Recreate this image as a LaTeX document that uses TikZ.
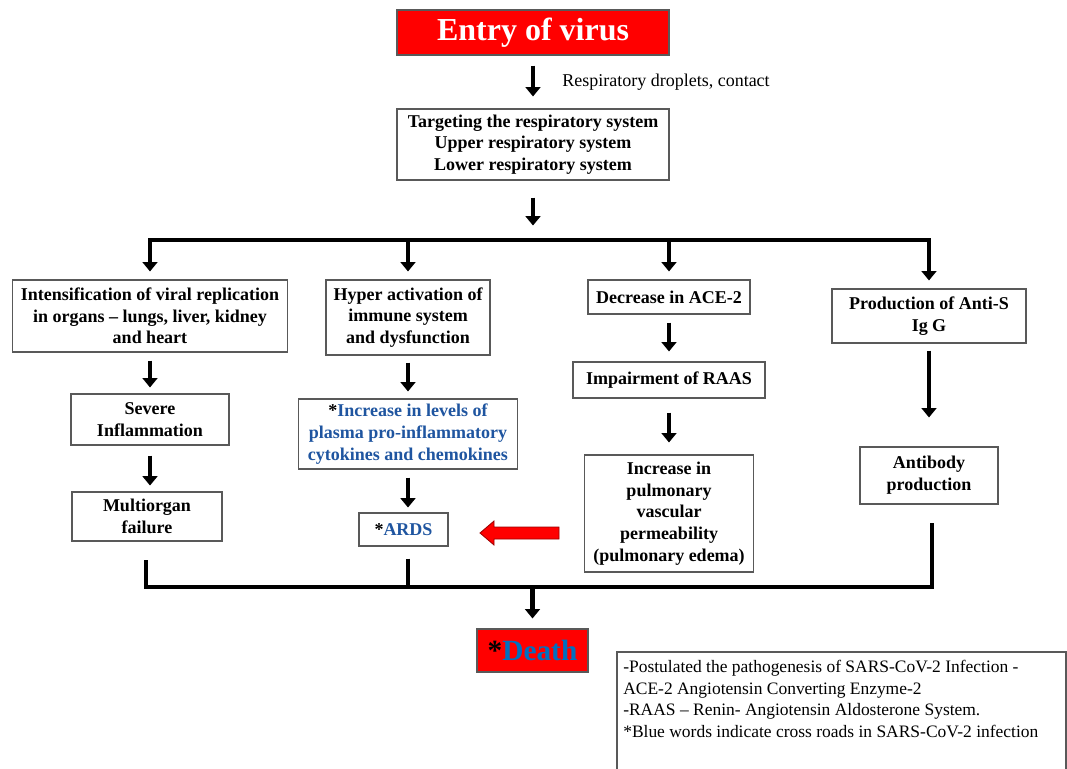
\documentclass[tikz,border=0pt]{standalone}
\usepackage{fontspec}
\setmainfont{Liberation Serif}
\usetikzlibrary{arrows.meta,calc}
\definecolor{bluetxt}{RGB}{31,85,160}
\definecolor{deathblue}{RGB}{0,112,192}
\begin{document}
\begin{tikzpicture}[x=0.75pt,y=-0.75pt,
  box/.style={draw=black!65,line width=0.8pt,align=center,inner sep=0pt,
    font=\fontsize{13.5}{16.3}\selectfont\bfseries},
  arr/.style={line width=3.6pt,-{Triangle[width=11pt,length=7pt]}},
  bar/.style={line width=3.6pt},
  plain/.style={font=\fontsize{13.1}{16.2}\selectfont,inner sep=0pt}
]
\useasboundingbox (0,0) rectangle (1067,768);
\fill[white] (0,0) rectangle (1067,768);

% nodes
\node[box,fill=red,text=white,minimum width=204pt,minimum height=33.75pt,
  font=\fontsize{24}{28}\selectfont\bfseries] (entry) at (533,32.5) {Entry of virus};
\node[plain,anchor=west,font=\fontsize{13.5}{16}\selectfont] (route) at (562,82) {Respiratory droplets, contact};
\node[box,minimum width=204pt,minimum height=53.25pt] (target) at (533,144.5)
  {Targeting the respiratory system\\Upper respiratory system\\Lower respiratory system};

\node[box,minimum width=206.25pt,minimum height=54pt] (A) at (150,316)
  {Intensification of viral replication\\in organs -- lungs, liver, kidney\\and heart};
\node[box,minimum width=123pt,minimum height=56.25pt] (B) at (408,317.5)
  {Hyper activation of\\immune system\\and dysfunction};
\node[box,minimum width=121.5pt,minimum height=25.5pt] (C) at (669,297)
  {Decrease in ACE-2};
\node[box,minimum width=145.5pt,minimum height=40.5pt] (D) at (929,316)
  {Production of Anti-S\\Ig G};

\node[box,minimum width=118.5pt,minimum height=38.25pt] (severe) at (150,419.5)
  {Severe\\Inflammation};
\node[box,minimum width=112.5pt,minimum height=36.75pt] (multi) at (147,516.5)
  {Multiorgan\\failure};

\node[box,minimum width=164.25pt,minimum height=52.5pt,text=bluetxt] (cyto) at (408,434)
  {\textcolor{black}{*}Increase in levels of\\plasma pro-inflammatory\\cytokines and chemokines};
\node[box,minimum width=66.75pt,minimum height=24.75pt,text=bluetxt] (ards) at (403.5,529.5)
  {\textcolor{black}{*}ARDS};

\node[box,minimum width=144pt,minimum height=27pt] (raas) at (669,380)
  {Impairment of RAAS};
\node[box,minimum width=126.75pt,minimum height=87.75pt] (pulm) at (669,513.5)
  {Increase in\\pulmonary\\vascular\\permeability\\(pulmonary edema)};

\node[box,minimum width=103.5pt,minimum height=42.75pt] (anti) at (929,475.5)
  {Antibody\\production};

\node[box,fill=red,minimum width=83.25pt,minimum height=32.25pt,text=deathblue,
  font=\fontsize{22}{26}\selectfont\bfseries] (death) at (532.5,650.5)
  {\textcolor{black}{*}Death};

\draw[black!65,line width=0.8pt] (1066,770) -- (1066,652) -- (617,652) -- (617,770);
\node[plain,anchor=north west,align=left] (note) at (623,660)
  {-Postulated the pathogenesis of SARS-CoV-2 Infection -\\
   ACE-2 Angiotensin Converting Enzyme-2\\
   -RAAS -- Renin- Angiotensin Aldosterone System.\\
   *Blue words indicate cross roads in SARS-CoV-2 infection};

% connectors
\draw[arr] ($(entry.south)+(0,10)$) -- ($(target.north)+(0,-12)$);
\draw[arr] ($(target.south)+(0,17)$) -- ($(target.south)+(0,45)$);

\coordinate (bus) at (533,240);
\draw[arr,{Triangle[width=11pt,length=7pt]}-{Triangle[width=11pt,length=7pt]},line join=miter]
  ($(A.north)+(0,-8)$) -- (A.north |- bus) -- (D.north |- bus) -- ($(D.north)+(0,-8)$);
\draw[arr] (B.north |- bus) -- ($(B.north)+(0,-8)$);
\draw[arr] (C.north |- bus) -- ($(C.north)+(0,-8)$);

\draw[arr] ($(A.south)+(0,8)$) -- ($(severe.north)+(0,-6)$);
\draw[arr] ($(severe.south)+(0,10)$) -- ($(severe.south)+(0,40)$);

\draw[arr] ($(B.south)+(0,7)$) -- ($(cyto.north)+(0,-7)$);
\draw[arr] ($(cyto.south)+(0,8)$) -- ($(cyto.south)+(0,38)$);

\draw[arr] ($(C.south)+(0,8)$) -- ($(raas.north)+(0,-10)$);
\draw[arr] ($(raas.south)+(0,14)$) -- ($(pulm.north)+(0,-12)$);

\draw[arr] ($(D.south)+(0,7)$) -- ($(anti.north)+(0,-29)$);

% red block arrow from pulm towards ards
\filldraw[fill=red,draw=red!60!black,line width=0.6pt]
  (559,527) -- (494,527) -- (494,521) -- (480,533) -- (494,545) -- (494,539) -- (559,539) -- cycle;

% bottom bus
\coordinate (bot) at (533,587);
\draw[bar,line join=miter] (146,560) -- (146,587) -- (932,587) -- (932,523);
\draw[bar] ($(cyto.south |- ards.south)+(0,12)$) -- (cyto.south |- bot);
\draw[arr] (death.north |- bot) -- ($(death.north)+(0,-10)$);
\end{tikzpicture}
\end{document}
